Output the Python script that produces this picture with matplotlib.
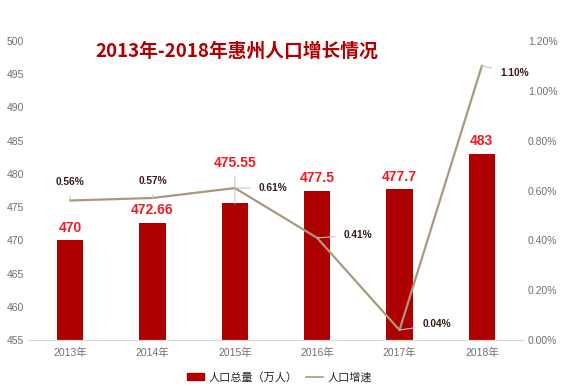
import matplotlib.pyplot as plt
from matplotlib.lines import Line2D
from matplotlib.patches import Patch
import numpy as np

plt.rcParams['font.family'] = ['Liberation Sans', 'Noto Sans CJK SC']

# Data
years = ['2013年', '2014年', '2015年', '2016年', '2017年', '2018年']
population = [470, 472.66, 475.55, 477.5, 477.7, 483]
growth = [0.56, 0.57, 0.61, 0.41, 0.04, 1.10]
pop_labels = ['470', '472.66', '475.55', '477.5', '477.7', '483']

bar_color = '#AE0000'
line_color = '#A8997E'
tick_color = '#707070'

fig = plt.figure(figsize=(5.62, 3.91), dpi=100)
ax = fig.add_axes([0.0516, 0.1304, 0.879, 0.7646])
ax2 = ax.twinx()

x = np.arange(len(years))
ax.bar(x, population, width=0.32, color=bar_color, zorder=2)
ax.set_ylim(455, 500)
ax.set_yticks(np.arange(455, 501, 5))
ax.set_xlim(-0.5, len(years) - 0.5)
ax.set_xticks(x)
ax.set_xticklabels(years)

# bar value labels (2015 raised above the line with a leader)
bar_offsets = [4, 4, 24, 4, 4, 4]
for xi, v, lab, off in zip(x, population, pop_labels, bar_offsets):
    arrow = None
    if off > 4:
        arrow = dict(arrowstyle='-', color='#C8C8C8', lw=0.8, shrinkA=2, shrinkB=0)
    ax.annotate(lab, (xi, v), xytext=(0, off), textcoords='offset points',
                ha='center', va='bottom', color='#EE1C25', fontsize=10,
                fontweight='bold', arrowprops=arrow)

ax2.plot(x, growth, color=line_color, lw=1.6, zorder=3)
ax2.set_ylim(0, 1.2)
ax2.set_yticks(np.arange(0, 1.21, 0.2))
ax2.set_yticklabels([f'{t:.2f}%' for t in np.arange(0, 1.21, 0.2)])

# offsets (points) for growth labels with leader lines
offsets = [(0, 13), (0, 12), (17, 0), (19, 2), (17, 4), (13, -5)]
for xi, g, off in zip(x, growth, offsets):
    ha = 'center' if off[0] == 0 else 'left'
    ax2.annotate(f'{g:.2f}%', (xi, g), xytext=off, textcoords='offset points',
                 ha=ha, va='center', color='#3B1A1A', fontsize=7.3,
                 fontweight='bold',
                 arrowprops=dict(arrowstyle='-', color='#C8C8C8', lw=0.8,
                                 shrinkA=4, shrinkB=0))

for a in (ax, ax2):
    for s in ['top', 'left', 'right']:
        a.spines[s].set_visible(False)
    a.spines['bottom'].set_color('#D9D9D9')
    a.tick_params(length=0, colors=tick_color, labelsize=7.5)
ax.tick_params(axis='x', pad=6)

fig.text(0.17, 0.855, '2013年-2018年惠州人口增长情况', color='#B00000',
         fontsize=13.5, fontweight='bold', family=['Noto Sans CJK SC'])

handles = [Patch(color=bar_color), Line2D([], [], color=line_color, lw=1.2)]
fig.legend(handles, ['人口总量（万人）', '人口增速'], loc='center',
           bbox_to_anchor=(0.497, 0.035), ncol=2, frameon=False,
           handlelength=1.5, handleheight=0.6, columnspacing=0.8,
           handletextpad=0.4, labelcolor='#262626',
           prop={'family': ['Noto Sans CJK SC'], 'size': 8})

fig.savefig('out.png', dpi=100)
